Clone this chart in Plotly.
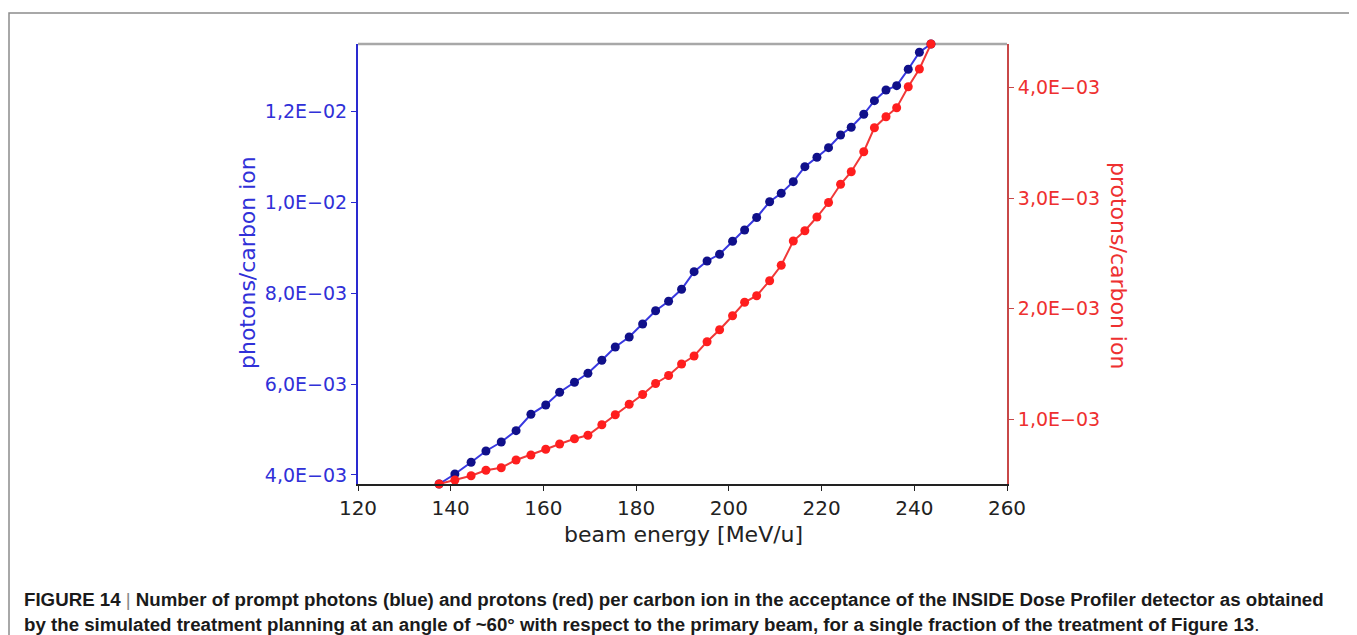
import plotly.graph_objects as go

# beam energies [MeV/u]
energy = [137.5, 140.9, 144.4, 147.6, 150.9, 154.1, 157.3, 160.5, 163.5, 166.7,
          169.6, 172.6, 175.5, 178.5, 181.4, 184.2, 187.0, 189.8, 192.5, 195.3,
          198.0, 200.8, 203.4, 206.0, 208.8, 211.3, 213.9, 216.4, 219.0, 221.5,
          224.1, 226.4, 229.1, 231.4, 233.9, 236.2, 238.7, 241.1, 243.6]

# prompt photons per carbon ion (blue)
photons = [3.802e-3, 4.022e-3, 4.279e-3, 4.528e-3, 4.725e-3, 4.974e-3, 5.334e-3, 5.539e-3,
           5.818e-3, 6.038e-3, 6.235e-3, 6.521e-3, 6.813e-3, 7.033e-3, 7.319e-3, 7.611e-3,
           7.818e-3, 8.082e-3, 8.469e-3, 8.704e-3, 8.851e-3, 9.137e-3, 9.385e-3, 9.660e-3,
           10.005e-3, 10.192e-3, 10.447e-3, 10.777e-3, 10.983e-3, 11.194e-3, 11.473e-3,
           11.642e-3, 11.928e-3, 12.227e-3, 12.462e-3, 12.557e-3, 12.917e-3, 13.291e-3,
           13.473e-3]

# protons per carbon ion (red)
protons = [0.4145e-3, 0.4507e-3, 0.4896e-3, 0.5385e-3, 0.5620e-3, 0.6317e-3, 0.6769e-3,
           0.7285e-3, 0.7765e-3, 0.8244e-3, 0.8552e-3, 0.9511e-3, 1.0416e-3, 1.1358e-3,
           1.2244e-3, 1.3240e-3, 1.3964e-3, 1.5005e-3, 1.5729e-3, 1.7023e-3, 1.8109e-3,
           1.9376e-3, 2.0589e-3, 2.1186e-3, 2.2543e-3, 2.3937e-3, 2.6136e-3, 2.7068e-3,
           2.8308e-3, 2.9620e-3, 3.1268e-3, 3.2408e-3, 3.4218e-3, 3.6390e-3, 3.7385e-3,
           3.8200e-3, 4.0100e-3, 4.1702e-3, 4.3965e-3]

x_ticks = [120, 140, 160, 180, 200, 220, 240, 260]
left_ticks = [4e-3, 6e-3, 8e-3, 10e-3, 12e-3]
left_tick_text = ["4,0E\u221203", "6,0E\u221203", "8,0E\u221203", "1,0E\u221202", "1,2E\u221202"]
right_ticks = [1e-3, 2e-3, 3e-3, 4e-3]
right_tick_text = ["1,0E\u221203", "2,0E\u221203", "3,0E\u221203", "4,0E\u221203"]

caption_1 = ("<b>FIGURE 14</b> <span style='color:#888888'>|</span> <b>Number of prompt photons (blue) and protons (red) "
             "per carbon ion in the acceptance of the INSIDE Dose Profiler detector as obtained</b>")
caption_2 = ("<b>by the simulated treatment planning at an angle of ~60\u00b0 with respect to the primary beam, "
             "for a single fraction of the treatment of Figure 13</b>.")

# the html page body has an 8px margin, so the figure is drawn 8px in
OFF = 8
W, H = 1357 - OFF, 635 - OFF
L, R, T, B = 358 - OFF, 1007 - OFF, 44 - OFF, 484 - OFF


def px(x):
    return (x - OFF - L) / (R - L)


def py(y):
    return (B - (y - OFF)) / (B - T)


font = "DejaVu Sans"
blue_txt = "#3030d8"
red_txt = "#ee3030"

fig = go.Figure()
fig.add_trace(go.Scatter(x=energy, y=photons, mode="lines+markers", cliponaxis=False,
                         line=dict(color="#3838e0", width=2),
                         marker=dict(color="#10108a", size=9), yaxis="y"))
fig.add_trace(go.Scatter(x=energy, y=protons, mode="lines+markers", cliponaxis=False,
                         line=dict(color="#f03838", width=2),
                         marker=dict(color="#ff1e1e", size=9), yaxis="y2"))

fig.update_layout(
    width=W, height=H,
    margin=dict(l=L, r=W - R, t=T, b=H - B),
    paper_bgcolor="white", plot_bgcolor="white",
    showlegend=False,
    font=dict(family=font, size=19),
    xaxis=dict(range=[120, 260], tickvals=x_ticks, showgrid=False, zeroline=False,
               showline=True, linecolor="#222222", linewidth=1.5,
               ticks="outside", ticklen=5, tickcolor="#222222",
               tickfont=dict(color="#222222", size=20)),
    yaxis=dict(range=[min(photons), max(photons)], tickvals=left_ticks, ticktext=left_tick_text,
               showgrid=False, zeroline=False, showline=True, linecolor="#2a2ad0", linewidth=2,
               ticks="outside", ticklen=5, tickcolor="#2a2ad0",
               tickfont=dict(color=blue_txt, size=19)),
    yaxis2=dict(range=[min(protons), max(protons)], tickvals=right_ticks, ticktext=right_tick_text,
                overlaying="y", side="right", anchor="x",
                showgrid=False, zeroline=False, showline=True, linecolor="#c84848", linewidth=2,
                ticks="outside", ticklen=5, tickcolor="#c84848",
                tickfont=dict(color=red_txt, size=19)),
    shapes=[
        dict(type="line", xref="paper", yref="paper", x0=0, x1=1, y0=1, y1=1, layer="below",
             line=dict(color="#a8a8a8", width=2.5)),
        dict(type="rect", xref="paper", yref="paper", x0=px(9), x1=px(1353), y0=py(13), y1=py(660),
             line=dict(color="#8c8c8c", width=1.5)),
    ],
    annotations=[
        dict(text="beam energy [MeV/u]", xref="paper", yref="paper", x=px(683), y=py(534),
             xanchor="center", yanchor="middle",
             showarrow=False, font=dict(color="#222222", size=22)),
        dict(text="photons/carbon ion", xref="paper", yref="paper", x=px(248), y=py(263),
             xanchor="center", yanchor="middle",
             textangle=-90, showarrow=False, font=dict(color=blue_txt, size=22)),
        dict(text="protons/carbon ion", xref="paper", yref="paper", x=px(1119), y=py(265),
             xanchor="center", yanchor="middle",
             textangle=90, showarrow=False, font=dict(color=red_txt, size=22)),
        dict(text=caption_1, xref="paper", yref="paper", x=px(22), y=py(599),
             xanchor="left", yanchor="middle",
             showarrow=False, font=dict(family="Liberation Sans, Arial", size=18.7, color="#1a1a1a")),
        dict(text=caption_2, xref="paper", yref="paper", x=px(22), y=py(624),
             xanchor="left", yanchor="middle",
             showarrow=False, font=dict(family="Liberation Sans, Arial", size=18.7, color="#1a1a1a")),
    ],
)

fig.write_html("out.html")
